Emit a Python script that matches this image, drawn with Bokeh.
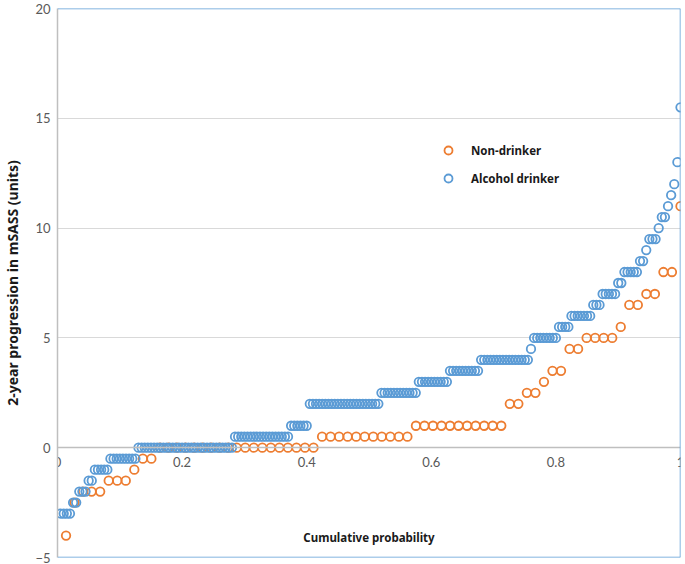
import numpy as np
from bokeh.plotting import figure
from bokeh.models import (LinearAxis, Legend, LegendItem, Label, FixedTicker, Span,
                          ColumnDataSource, NumeralTickFormatter)
from bokeh.embed import file_html
from bokeh.resources import INLINE

# ---- data: sorted 2-year mSASS progression values (level, number of patients) ----
nondrinker_levels = [-4, -2.5, -2, -1.5, -1, -0.5, 0, 0.5, 1, 2, 2.5, 3, 3.5, 4.5, 5, 5.5, 6.5, 7, 8, 11]
nondrinker_counts = [1, 1, 3, 3, 1, 2, 19, 11, 11, 2, 2, 1, 2, 2, 4, 1, 2, 2, 2, 1]

drinker_levels = [-3, -2.5, -2, -1.5, -1, -0.5, 0, 0.5, 1, 2, 2.5, 3, 3.5, 4, 4.5, 5, 5.5, 6, 6.5,
                  7, 7.5, 8, 8.5, 9, 9.5, 10, 10.5, 11, 11.5, 12, 13, 15.5]
drinker_counts = [4, 2, 3, 2, 5, 9, 31, 18, 6, 23, 12, 10, 10, 16, 1, 8, 4, 7, 3,
                  5, 2, 5, 2, 1, 3, 1, 2, 1, 1, 1, 1, 1]

x_ticks = [0, 0.2, 0.4, 0.6, 0.8, 1]
y_ticks = [-5, 0, 5, 10, 15, 20]

series_names = ["Non-drinker", "Alcohol drinker"]
colors = ["#ED7D31", "#5B9BD5"]


def ecdf(levels, counts):
    y = np.repeat(np.array(levels, dtype=float), counts)
    n = len(y)
    x = np.arange(1, n + 1) / n  # cumulative probability
    return ColumnDataSource(dict(x=x, y=y))


src_nd = ecdf(nondrinker_levels, nondrinker_counts)
src_d = ecdf(drinker_levels, drinker_counts)

p = figure(width=685, height=564, x_range=(0, 1), y_range=(-5, 20),
           output_backend="svg", toolbar_location=None, x_axis_location=None,
           min_border_left=57, min_border_right=5, min_border_top=8, min_border_bottom=7)
p.outline_line_color = None
p.background_fill_color = "white"

# y axis
p.yaxis.ticker = FixedTicker(ticks=y_ticks)
p.yaxis.axis_line_color = "#BFBFBF"
p.yaxis.axis_line_width = 1.5
p.yaxis.major_tick_line_color = None
p.yaxis.major_tick_out = 0
p.yaxis.major_tick_in = 0
p.yaxis.minor_tick_line_color = None
p.yaxis.minor_tick_out = 0
p.yaxis.major_label_text_color = "#595959"
p.yaxis.major_label_text_font = "Lato"
p.yaxis.major_label_text_font_size = "13px"
p.yaxis.major_label_standoff = 7
p.yaxis.axis_label = "2-year progression in mSASS (units)"
p.yaxis.axis_label_text_font = "Noto Sans"
p.yaxis.axis_label_text_font_style = "bold"
p.yaxis.axis_label_text_font_size = "14px"
p.yaxis.axis_label_text_color = "#1a1a1a"
p.yaxis.axis_label_standoff = 10

# x axis pinned at y = 0
xaxis = LinearAxis(fixed_location=0, ticker=FixedTicker(ticks=x_ticks),
                   formatter=NumeralTickFormatter(format="0.[0]"))
xaxis.axis_line_color = "#BFBFBF"
xaxis.axis_line_width = 1.5
xaxis.major_tick_line_color = None
xaxis.major_tick_out = 0
xaxis.major_tick_in = 0
xaxis.minor_tick_line_color = None
xaxis.minor_tick_out = 0
xaxis.major_label_text_color = "#595959"
xaxis.major_label_text_font = "Lato"
xaxis.major_label_text_font_size = "13px"
xaxis.major_label_standoff = 9
p.add_layout(xaxis, "below")

# grid
p.xgrid.visible = False
p.ygrid.ticker = FixedTicker(ticks=[5, 10, 15])
p.ygrid.grid_line_color = "#D9D9D9"
p.ygrid.grid_line_width = 1.2

# blue frame edges (top, bottom, right)
for loc, dim in [(20, "width"), (-5, "width"), (1, "height")]:
    p.add_layout(Span(location=loc, dimension=dim, line_color="#5B9BD5", line_width=1.5))

r_nd = p.scatter("x", "y", source=src_nd, marker="circle", size=8.5, fill_color=None,
                 line_color=colors[0], line_width=1.8)
r_d = p.scatter("x", "y", source=src_d, marker="circle", size=8.5, fill_color=None,
                line_color=colors[1], line_width=1.8)

legend = Legend(items=[LegendItem(label=series_names[0], renderers=[r_nd]),
                       LegendItem(label=series_names[1], renderers=[r_d])],
                location=(381, 369), padding=0, margin=0, spacing=8,
                glyph_width=20, glyph_height=20, label_height=20, label_standoff=13,
                border_line_color=None, background_fill_alpha=0,
                label_text_font="Noto Sans", label_text_font_style="bold",
                label_text_font_size="11.5px", label_text_color="#1a1a1a")
p.add_layout(legend)

p.add_layout(Label(x=0.5, y=-4.1, text="Cumulative probability", text_align="center",
                   text_baseline="middle", text_font="Noto Sans", text_font_style="bold",
                   text_font_size="11.5px", text_color="#1a1a1a"))

open("out.html", "w").write(file_html(p, INLINE))
